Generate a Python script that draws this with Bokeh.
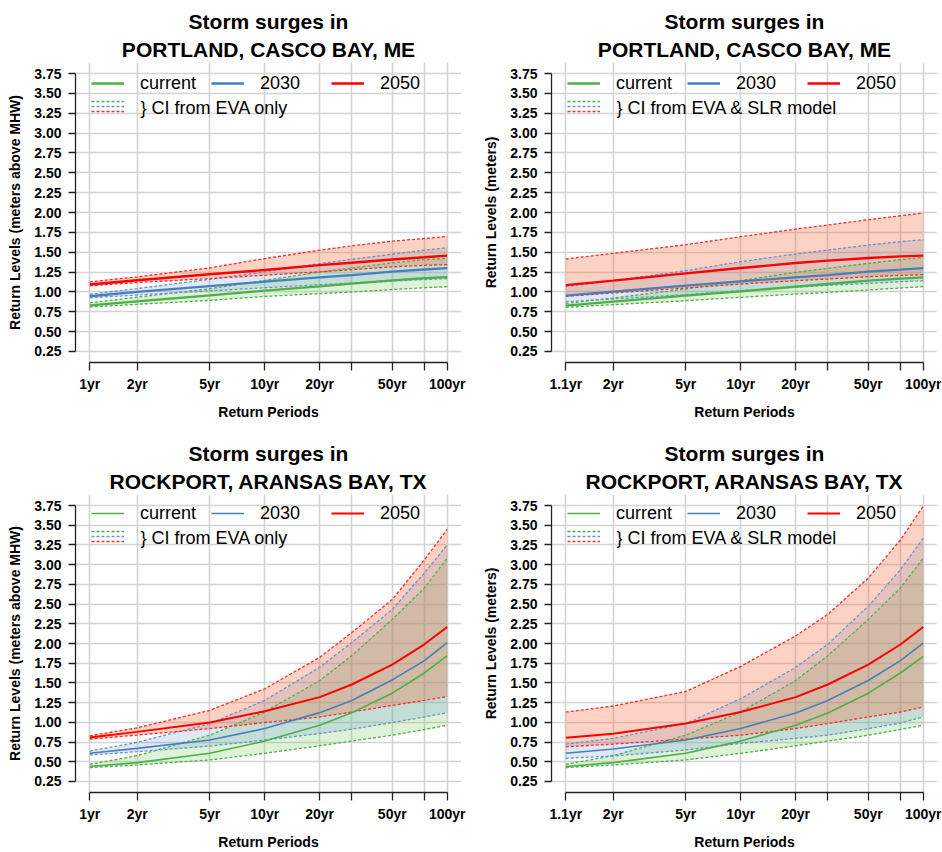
from bokeh.plotting import figure
from bokeh.models import (Range1d, FixedTicker, PrintfTickFormatter, Title,
                          Legend, LegendItem, Label)
from bokeh.layouts import row, column
from bokeh.embed import file_html
from bokeh.resources import INLINE

FONT = "Liberation Sans"

# ---------------- data ----------------
periods = [1.1, 2, 5, 10, 20, 30, 50, 75, 100]
period_ticks = [1.1, 2, 5, 10, 20, 30, 50, 75, 100]
period_labels_left = ["1yr", "2yr", "5yr", "10yr", "20yr", "", "50yr", "", "100yr"]
period_labels_right = ["1.1yr", "2yr", "5yr", "10yr", "20yr", "", "50yr", "", "100yr"]
level_ticks = [0.25, 0.5, 0.75, 1.0, 1.25, 1.5, 1.75, 2.0, 2.25, 2.5, 2.75, 3.0, 3.25, 3.5, 3.75]

series_names = ["current", "2030", "2050"]

# Portland, CI from EVA only
pe_cur = [0.83, 0.88, 0.955, 1.015, 1.07, 1.103, 1.145, 1.172, 1.187]
pe_cur_lo = [0.81, 0.843, 0.893, 0.942, 0.978, 0.998, 1.03, 1.052, 1.066]
pe_cur_hi = [0.862, 0.933, 1.04, 1.145, 1.25, 1.3, 1.365, 1.405, 1.425]
pe_30 = [0.945, 1.0, 1.073, 1.128, 1.182, 1.212, 1.254, 1.282, 1.30]
pe_30_lo = [0.925, 0.96, 1.012, 1.052, 1.09, 1.11, 1.135, 1.155, 1.167]
pe_30_hi = [0.97, 1.042, 1.158, 1.252, 1.357, 1.41, 1.474, 1.525, 1.556]
pe_50 = [1.092, 1.147, 1.222, 1.275, 1.337, 1.366, 1.407, 1.436, 1.457]
pe_50_lo = [1.076, 1.118, 1.168, 1.21, 1.252, 1.28, 1.315, 1.335, 1.343]
pe_50_hi = [1.126, 1.189, 1.302, 1.42, 1.525, 1.58, 1.639, 1.672, 1.698]

# Portland, CI from EVA & SLR model
ps_cur = [0.826, 0.877, 0.952, 1.007, 1.065, 1.099, 1.141, 1.166, 1.183]
ps_cur_lo = [0.805, 0.839, 0.889, 0.931, 0.973, 0.994, 1.023, 1.049, 1.065]
ps_cur_hi = [0.855, 0.923, 1.036, 1.141, 1.246, 1.296, 1.359, 1.405, 1.435]
ps_30 = [0.952, 1.002, 1.078, 1.132, 1.183, 1.212, 1.254, 1.279, 1.30]
ps_30_lo = [0.877, 0.91, 0.965, 1.015, 1.057, 1.082, 1.107, 1.128, 1.141]
ps_30_hi = [1.065, 1.141, 1.267, 1.38, 1.477, 1.527, 1.59, 1.632, 1.657]
ps_50 = [1.085, 1.141, 1.233, 1.30, 1.363, 1.393, 1.426, 1.447, 1.456]
ps_50_lo = [0.944, 0.986, 1.049, 1.099, 1.141, 1.162, 1.191, 1.208, 1.216]
ps_50_hi = [1.414, 1.485, 1.594, 1.695, 1.791, 1.842, 1.909, 1.959, 1.993]

# Rockport, CI from EVA only
re_cur = [0.439, 0.489, 0.607, 0.762, 0.963, 1.123, 1.37, 1.626, 1.845]
re_cur_lo = [0.426, 0.46, 0.523, 0.607, 0.703, 0.762, 0.837, 0.909, 0.963]
re_cur_hi = [0.468, 0.577, 0.837, 1.131, 1.53, 1.845, 2.306, 2.705, 3.083]
re_30 = [0.607, 0.67, 0.775, 0.921, 1.123, 1.278, 1.538, 1.782, 2.012]
re_30_lo = [0.586, 0.628, 0.699, 0.775, 0.858, 0.913, 0.997, 1.068, 1.123]
re_30_hi = [0.636, 0.745, 0.984, 1.278, 1.698, 2.012, 2.432, 2.894, 3.25]
re_50 = [0.808, 0.879, 0.997, 1.14, 1.32, 1.48, 1.731, 1.99, 2.21]
re_50_lo = [0.787, 0.838, 0.921, 0.997, 1.068, 1.131, 1.215, 1.278, 1.328]
re_50_hi = [0.829, 0.93, 1.152, 1.425, 1.824, 2.138, 2.558, 3.062, 3.448]

# Rockport, CI from EVA & SLR model
rs_cur = [0.439, 0.489, 0.607, 0.762, 0.963, 1.119, 1.37, 1.626, 1.836]
rs_cur_lo = [0.426, 0.46, 0.523, 0.607, 0.703, 0.762, 0.837, 0.909, 0.963]
rs_cur_hi = [0.468, 0.577, 0.837, 1.131, 1.53, 1.845, 2.306, 2.705, 3.083]
rs_30 = [0.607, 0.661, 0.775, 0.921, 1.119, 1.278, 1.53, 1.782, 2.004]
rs_30_lo = [0.544, 0.573, 0.649, 0.733, 0.796, 0.837, 0.92, 0.99, 1.068]
rs_30_hi = [0.724, 0.796, 0.984, 1.299, 1.698, 1.991, 2.474, 2.936, 3.334]
rs_50 = [0.804, 0.854, 0.984, 1.131, 1.32, 1.48, 1.731, 1.987, 2.21]
rs_50_lo = [0.69, 0.724, 0.787, 0.837, 0.921, 0.984, 1.068, 1.131, 1.194]
rs_50_hi = [1.13, 1.207, 1.391, 1.71, 2.096, 2.369, 2.83, 3.313, 3.741]

# ---------------- styles ----------------
LINE_COLORS = ["#4daf4a", "#4a7ebb", "#ff0000"]
DASH_COLORS = ["#4daf4a", "#6a93c9", "#ff2a2a"]
FILL_COLORS = ["#7ccd5f", "#5b8fd0", "#f26b3a"]
FILL_ALPHAS = [0.25, 0.2, 0.3]
GRID = "#d3d3d3"
AXIS = "#222222"

X_LO, X_HI = 10 ** -0.0369, 10 ** 2.0783
Y_LO, Y_HI = 0.11, 3.89


def make_panel(place, ylabel, xlabels, ci_text, mids, los, his, width, height,
               bl, br, bt, bb, lws):
    p = figure(width=width, height=height, x_axis_type="log",
               x_range=Range1d(X_LO, X_HI), y_range=Range1d(Y_LO, Y_HI),
               output_backend="svg", toolbar_location=None,
               min_border_left=bl, min_border_right=br,
               min_border_top=bt, min_border_bottom=bb)
    p.outline_line_color = None
    p.background_fill_color = "white"

    # titles (figure title is the outer line, added Title sits next to the frame)
    p.title.text = "Storm surges in"
    p.title.text_font = FONT
    p.title.text_font_size = "21px"
    p.title.text_font_style = "bold"
    p.title.text_color = "black"
    p.title.align = "center"
    p.title.standoff = 2.5
    p.add_layout(Title(text=place, text_font=FONT, text_font_size="21px",
                       text_font_style="bold", text_color="black",
                       align="center", standoff=3), "above")

    # axes
    p.xaxis.ticker = FixedTicker(ticks=period_ticks)
    p.xaxis.major_label_overrides = {t: l for t, l in zip(period_ticks, xlabels)}
    p.yaxis.ticker = FixedTicker(ticks=level_ticks)
    p.yaxis.formatter = PrintfTickFormatter(format="%.2f")
    p.xaxis.bounds = (period_ticks[0], period_ticks[-1])
    p.yaxis.bounds = (level_ticks[0], level_ticks[-1])
    for ax in (p.xaxis, p.yaxis):
        ax.axis_line_color = AXIS
        ax.axis_line_width = 1.3
        ax.major_tick_line_color = AXIS
        ax.major_tick_line_width = 1.3
        ax.major_tick_in = 0
        ax.minor_tick_line_color = None
        ax.major_label_text_font = FONT
        ax.major_label_text_font_size = "14px"
        ax.major_label_text_font_style = "bold"
        ax.major_label_text_color = "black"
        ax.axis_label_text_font = FONT
        ax.axis_label_text_font_size = "14px"
        ax.axis_label_text_font_style = "bold"
        ax.axis_label_text_color = "black"
    p.xaxis.major_tick_out = 8
    p.yaxis.major_tick_out = 7
    p.xaxis.major_label_standoff = 5
    p.yaxis.major_label_standoff = 7
    p.xaxis.axis_label = "Return Periods"
    p.yaxis.axis_label = ylabel
    p.xaxis.axis_label_standoff = 9
    p.yaxis.axis_label_standoff = 8

    p.xgrid.grid_line_color = GRID
    p.ygrid.grid_line_color = GRID
    p.xgrid.grid_line_width = 1.6
    p.ygrid.grid_line_width = 1.6

    # confidence bands
    for lo, hi, fc, fa in zip(los, his, FILL_COLORS, FILL_ALPHAS):
        p.varea(x=periods, y1=lo, y2=hi, fill_color=fc, fill_alpha=fa)
    dashed = []
    for lo, hi, dc in zip(los, his, DASH_COLORS):
        r1 = p.line(periods, hi, line_color=dc, line_width=1.3, line_dash="3 2")
        p.line(periods, lo, line_color=dc, line_width=1.3, line_dash="3 2")
        dashed.append(r1)
    solid = []
    for mid, lc, lw in zip(mids, LINE_COLORS, lws):
        solid.append(p.line(periods, mid, line_color=lc, line_width=lw))

    fh = height - bt - bb
    common = dict(padding=0, margin=0, border_line_color=None, background_fill_alpha=0,
                  label_text_font=FONT, label_text_color="black")
    leg1 = Legend(items=[LegendItem(label=n, renderers=[r]) for n, r in zip(series_names, solid)],
                  location=(16, fh - 21.5 - 10), orientation="horizontal",
                  glyph_width=33, glyph_height=20, label_height=20, label_width=57,
                  label_standoff=16, spacing=14, label_text_font_size="18px", **common)
    p.add_layout(leg1)
    # three stacked dashed swatches for the CI entry
    for k, r in enumerate(dashed):
        centre = 39.0 + 5.0 * k
        leg = Legend(items=[LegendItem(label=" ", renderers=[r])],
                     location=(16, fh - centre - 3), orientation="vertical",
                     glyph_width=33, glyph_height=6, label_height=6, label_width=1,
                     label_standoff=0, spacing=0, label_text_font_size="1px", **common)
        p.add_layout(leg)
    p.add_layout(Label(x=65, y=fh - 45.5, x_units="screen", y_units="screen",
                       text=ci_text, text_font=FONT, text_font_size="18px",
                       text_baseline="middle", text_align="left", text_color="black"))
    return p


p1 = make_panel("PORTLAND, CASCO BAY, ME", "Return Levels (meters above MHW)",
                period_labels_left, "} CI from EVA only",
                [pe_cur, pe_30, pe_50], [pe_cur_lo, pe_30_lo, pe_50_lo],
                [pe_cur_hi, pe_30_hi, pe_50_hi],
                470, 430, 75, 9, 62, 68, [2.3, 2.3, 2.4])
p2 = make_panel("PORTLAND, CASCO BAY, ME", "Return Levels (meters)",
                period_labels_right, "} CI from EVA & SLR model",
                [ps_cur, ps_30, ps_50], [ps_cur_lo, ps_30_lo, ps_50_lo],
                [ps_cur_hi, ps_30_hi, ps_50_hi],
                472, 430, 81, 5, 62, 68, [2.3, 2.3, 2.4])
p3 = make_panel("ROCKPORT, ARANSAS BAY, TX", "Return Levels (meters above MHW)",
                period_labels_left, "} CI from EVA only",
                [re_cur, re_30, re_50], [re_cur_lo, re_30_lo, re_50_lo],
                [re_cur_hi, re_30_hi, re_50_hi],
                470, 422, 75, 9, 64, 58, [1.6, 1.6, 2.0])
p4 = make_panel("ROCKPORT, ARANSAS BAY, TX", "Return Levels (meters)",
                period_labels_right, "} CI from EVA & SLR model",
                [rs_cur, rs_30, rs_50], [rs_cur_lo, rs_30_lo, rs_50_lo],
                [rs_cur_hi, rs_30_hi, rs_50_hi],
                472, 422, 81, 5, 64, 58, [1.6, 1.6, 2.0])

layout = column(row(p1, p2), row(p3, p4))
open("out.html", "w").write(file_html(layout, INLINE))
